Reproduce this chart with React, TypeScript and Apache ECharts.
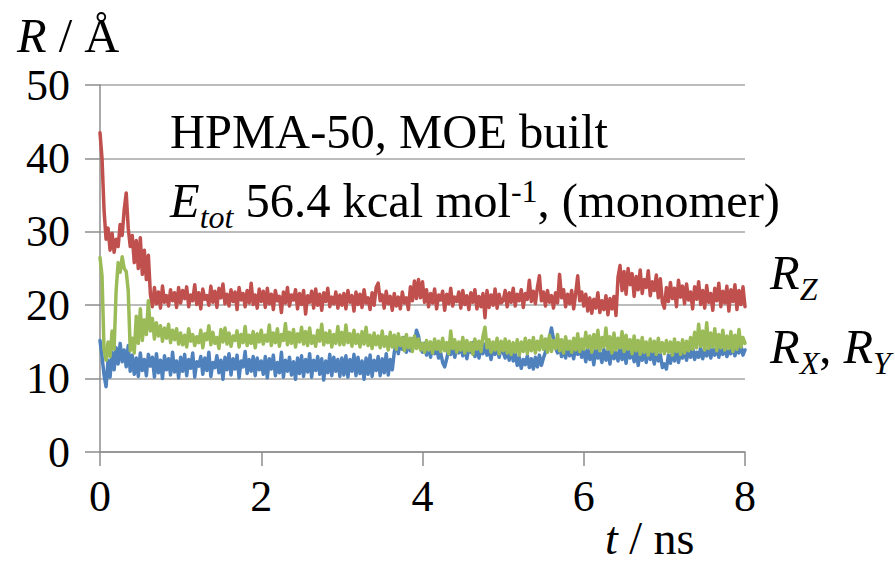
import React, { useEffect, useRef } from "react";
import * as echarts from "echarts";

const FONT = "Liberation Serif";

// sampling step in ns (x positions of the samples)
const STEP_NS = 0.025;
const xTicks = [0, 2, 4, 6, 8];
const yTicks = [0, 10, 20, 30, 40, 50];

// R_Z (red), one row per ns
const rz = [
  43.5, 40, 33, 29, 30.5, 27.5, 29.8, 27.2, 29, 28, 31, 29.5, 33, 35.3, 30.5, 28, 29.5, 25.8, 28.8, 25, 29.2, 24.2, 27.5, 23.5, 26.8, 21.5, 19.8, 22.4, 20.2, 21.8, 19.6, 22.6, 20.4, 21.3, 19.9, 22.1, 20.6, 21.7, 19.7, 22.4,
  20.3, 22.0, 20.9, 22.5, 19.8, 21.4, 20.6, 22.8, 20.1, 21.7, 19.5, 22.2, 20.8, 21.3, 20.0, 22.6, 20.4, 21.9, 19.7, 22.3, 21.0, 22.9, 20.2, 21.5, 19.9, 22.1, 20.5, 21.8, 19.4, 22.4, 20.7, 21.6, 19.8, 22.0, 20.3, 23.0, 20.1, 21.4, 19.6, 22.2,
  20.5, 21.9, 19.7, 22.3, 20.2, 21.5, 19.4, 22.0, 20.6, 21.2, 19.0, 21.8, 20.3, 22.4, 19.9, 21.4, 20.7, 22.1, 19.5, 21.6, 20.1, 22.0, 18.8, 21.3, 20.4, 21.9, 19.6, 22.2, 20.0, 21.5, 19.3, 21.7, 20.5, 22.3, 19.8, 21.1, 20.2, 21.8, 19.6, 21.4,
  20.0, 21.6, 19.5, 22.0, 20.4, 21.3, 19.2, 21.8, 20.1, 21.5, 19.7, 22.1, 20.3, 21.0, 19.4, 21.7, 20.0, 22.4, 23.0, 20.6, 21.4, 19.6, 21.9, 20.2, 21.2, 19.3, 21.6, 19.9, 21.1, 19.5, 21.8, 20.3, 21.0, 19.4, 22.5, 20.6, 23.3, 20.9, 23.5, 21.0,
  23.2, 20.4, 22.1, 19.8, 21.6, 20.3, 22.2, 19.5, 21.4, 20.7, 21.9, 19.3, 21.5, 20.2, 22.3, 19.9, 21.1, 20.5, 21.8, 19.6, 22.0, 20.1, 21.3, 19.4, 21.7, 20.4, 22.1, 19.5, 21.2, 19.8, 21.6, 18.3, 22.0, 19.7, 21.4, 20.0, 22.2, 19.6, 21.5, 20.3,
  20.6, 22.0, 19.8, 21.7, 20.4, 22.3, 19.9, 21.5, 20.6, 22.1, 19.7, 21.6, 20.8, 23.4, 20.5, 21.9, 20.2, 22.4, 24.0, 20.6, 21.8, 19.9, 22.0, 20.4, 21.3, 19.6, 21.7, 20.3, 24.2, 21.0, 22.1, 19.8, 21.5, 20.2, 22.0, 19.5, 21.6, 24.0, 20.6, 21.8,
  19.9, 21.5, 19.2, 21.0, 18.9, 20.8, 19.6, 21.7, 19.0, 20.6, 19.4, 21.3, 18.7, 20.9, 19.5, 21.2, 18.6, 23.8, 25.4, 22.0, 24.6, 21.5, 25.0, 22.8, 24.3, 21.2, 23.9, 22.1, 24.8, 21.6, 23.5, 22.4, 24.7, 21.3, 23.2, 22.0, 24.1, 21.0, 23.6, 20.4,
  19.6, 22.4, 20.5, 23.1, 20.9, 22.3, 19.8, 23.4, 21.1, 22.6, 20.2, 22.9, 20.7, 21.8, 19.5, 22.5, 20.8, 23.2, 20.1, 22.0, 19.6, 22.7, 20.4, 21.6, 19.3, 22.3, 20.6, 23.0, 19.8, 21.9, 20.3, 22.6, 19.2, 22.1, 20.5, 22.8, 19.4, 22.0, 20.1, 22.5,
  19.8,
];

// R_Y (green)
const ry = [
  26.5, 24, 14, 12.5, 15, 13, 16.5, 14, 22, 25.8, 24.5, 26.6, 25, 24.6, 22, 13.8, 15.5, 13.5, 18.5, 14.8, 19.5, 15.2, 18, 16, 20.6, 16.5, 18.2, 15.4, 17.6, 15.8, 17.2, 15.1, 16.9, 15.5, 17.4, 14.9, 16.6, 15.3, 16.8, 14.7,
  16.2, 14.6, 15.9, 14.3, 16.8, 15.1, 16.0, 14.5, 15.7, 14.9, 16.6, 14.2, 16.1, 15.3, 17.2, 14.6, 16.3, 14.8, 15.6, 14.1, 16.7, 15.0, 16.9, 14.7, 16.2, 14.4, 15.8, 15.2, 16.5, 14.3, 16.0, 14.9, 17.1, 14.5, 15.9, 14.8, 16.4, 14.2, 16.1, 15.0,
  16.6, 14.7, 15.9, 15.1, 17.3, 14.5, 16.2, 14.9, 16.8, 14.4, 16.0, 15.2, 17.5, 14.6, 16.3, 14.8, 16.7, 14.3, 16.1, 15.0, 17.0, 14.7, 16.4, 14.5, 16.9, 14.8, 15.8, 14.4, 16.6, 15.1, 17.4, 14.6, 16.2, 14.9, 16.5, 14.3, 16.0, 14.8, 17.1, 14.6,
  16.3, 14.6, 17.3, 14.9, 16.1, 14.4, 16.6, 14.8, 16.0, 14.3, 16.4, 14.7, 17.0, 14.5, 15.9, 14.1, 16.2, 14.6, 15.8, 14.2, 16.5, 14.4, 15.7, 13.9, 16.3, 14.3, 15.9, 14.0, 16.1, 14.5, 15.6, 13.8, 16.0, 14.2, 15.5, 13.7, 15.8, 14.1, 15.4, 13.9,
  14.8, 13.6, 15.2, 13.9, 15.0, 13.5, 15.4, 14.0, 15.1, 13.7, 15.5, 13.8, 14.9, 13.4, 16.5, 14.1, 15.3, 13.6, 15.0, 13.9, 15.6, 13.5, 15.2, 13.8, 14.9, 13.3, 15.4, 14.0, 15.1, 13.7, 15.8, 17.0, 14.2, 15.3, 13.6, 15.0, 13.9, 15.5, 13.4, 15.1,
  13.8, 15.4, 13.5, 15.1, 13.3, 14.9, 13.6, 15.3, 13.2, 15.0, 13.7, 15.5, 13.4, 15.2, 13.8, 15.6, 13.5, 15.1, 13.9, 15.8, 14.0, 15.4, 13.6, 15.9, 13.7, 15.2, 14.1, 16.0, 13.8, 15.3, 13.5, 15.7, 14.0, 15.1, 13.6, 15.5, 13.9, 16.1, 13.7, 15.4,
  14.0, 16.3, 14.2, 15.8, 13.6, 16.0, 14.1, 16.6, 13.8, 15.6, 14.3, 16.9, 14.0, 15.7, 13.5, 16.2, 13.9, 15.5, 14.2, 16.4, 13.7, 15.9, 14.0, 15.3, 13.4, 15.8, 13.8, 15.2, 13.3, 15.6, 13.6, 15.0, 13.2, 15.4, 13.7, 15.1, 13.3, 15.5, 13.6, 14.9,
  13.4, 15.2, 13.6, 15.0, 13.2, 15.4, 13.7, 14.9, 13.3, 15.3, 13.5, 15.1, 13.8, 15.6, 14.0, 16.3, 14.2, 17.4, 14.4, 16.5, 13.9, 17.6, 14.1, 16.2, 14.3, 16.8, 13.8, 16.0, 14.2, 16.6, 13.9, 15.8, 14.1, 16.4, 13.7, 15.9, 14.0, 16.7, 14.3, 15.6,
  14.8,
];

// R_X (blue)
const rx = [
  15.2, 13, 10.5, 8.9, 12.5, 10.2, 13.6, 11.2, 14.2, 12, 14.8, 12.3, 13.9, 11.6, 14.5, 11.0, 13.2, 10.6, 12.8, 10.3, 13.5, 11.1, 12.6, 10.4, 13.3, 11.7, 12.9, 10.2, 13.4, 10.8, 12.5, 10.0, 13.1, 11.2, 12.7, 10.5, 13.6, 10.9, 12.4, 10.1,
  12.9, 11.0, 13.3, 10.4, 12.6, 11.4, 13.5, 10.2, 12.3, 11.7, 13.0, 10.6, 12.8, 11.1, 13.6, 10.3, 12.2, 11.5, 13.1, 10.8, 12.5, 9.9, 12.9, 11.2, 13.4, 10.5, 12.7, 11.3, 13.2, 10.1, 12.4, 11.6, 13.7, 10.7, 12.6, 11.0, 13.0, 10.4, 12.8, 11.2,
  12.4, 10.6, 13.0, 10.1, 12.7, 11.3, 13.2, 10.4, 12.2, 10.8, 13.6, 10.2, 12.5, 11.0, 12.9, 10.5, 12.3, 9.9, 12.8, 10.7, 13.1, 10.3, 12.6, 10.9, 13.4, 10.2, 12.5, 11.1, 13.0, 10.6, 12.7, 9.8, 12.4, 10.8, 13.3, 10.4, 12.9, 11.0, 12.6, 10.3,
  12.8, 10.5, 13.1, 10.2, 12.6, 11.0, 13.3, 10.4, 12.9, 10.7, 12.4, 9.9, 12.8, 10.6, 13.2, 10.3, 12.5, 11.1, 13.0, 10.4, 12.7, 10.8, 13.4, 10.5, 12.6, 11.2, 13.6, 14.8, 13.4, 15.2, 14.0, 15.6, 13.6, 14.9, 13.8, 15.4, 14.6, 16.6, 15.8, 14.2,
  13.6, 14.8, 13.2, 14.5, 12.9, 14.7, 13.4, 14.1, 12.8, 13.5, 12.2, 11.6, 12.7, 14.0, 13.3, 14.6, 12.9, 14.3, 13.5, 14.8, 13.1, 14.4, 12.7, 14.2, 13.6, 14.9, 13.0, 14.5, 12.8, 14.1, 13.4, 14.7, 13.2, 14.0, 12.6, 14.3, 13.3, 14.6, 12.9, 14.2,
  13.6, 12.8, 14.2, 12.5, 13.9, 12.4, 13.5, 11.8, 12.9, 11.4, 12.6, 11.9, 13.1, 11.5, 12.7, 11.3, 12.9, 11.6, 13.2, 11.8, 12.8, 13.6, 14.8, 15.6, 16.9, 15.4, 14.2, 13.5, 14.6, 13.0, 14.3, 12.8, 14.5, 13.1, 14.0, 12.7, 14.4, 13.3, 14.1, 12.9,
  13.9, 12.3, 14.1, 12.6, 13.7, 11.9, 14.2, 12.8, 13.5, 12.2, 14.0, 12.5, 13.8, 12.0, 14.3, 12.7, 13.6, 12.4, 14.1, 12.6, 13.9, 12.1, 14.2, 12.8, 13.7, 12.3, 14.0, 11.8, 13.6, 12.5, 13.9, 12.2, 14.1, 12.6, 13.5, 12.0, 13.8, 12.4, 13.3, 11.5,
  12.0, 11.3, 13.2, 12.1, 13.7, 12.4, 13.9, 12.2, 13.5, 12.8, 14.1, 12.5, 13.8, 12.9, 14.3, 12.6, 13.6, 12.9, 14.2, 12.7, 13.9, 13.1, 14.4, 12.8, 14.0, 13.2, 14.5, 12.9, 14.1, 13.3, 14.4, 13.0, 13.8, 13.4, 14.6, 13.1, 14.2, 13.5, 14.5, 13.2,
  13.9,
];

const seriesNames = ["R_X", "R_Z", "R_Y"];
const seriesColors = ["#4F81BD", "#C0504D", "#9BBB59"];
const seriesValues = [rx, rz, ry];

const toPairs = (vals: number[]) =>
  vals.map((v, i) => [Number((i * STEP_NS).toFixed(3)), v]);

const MAIN = 48.5;
const SUB = 32;

const rich = {
  n: { fontFamily: FONT, fontSize: MAIN, verticalAlign: "middle" },
  i: { fontFamily: FONT, fontSize: MAIN, fontStyle: "italic", verticalAlign: "middle" },
  sub: { fontFamily: FONT, fontSize: SUB, fontStyle: "italic", verticalAlign: "middle", padding: [34, 0, 0, 0] },
  sup: { fontFamily: FONT, fontSize: SUB, verticalAlign: "middle", padding: [0, 0, 18, 0] },
  ns: { fontFamily: FONT, fontSize: 46, verticalAlign: "middle" },
  nsi: { fontFamily: FONT, fontSize: 46, fontStyle: "italic", verticalAlign: "middle" },
};

const label = (x: number, y: number, text: string) => ({
  type: "text",
  x,
  y,
  style: { text, rich, fontFamily: FONT, fontSize: MAIN, fill: "#000", verticalAlign: "middle" },
});

export default function App() {
  const ref = useRef<HTMLDivElement>(null);
  useEffect(() => {
    document.body.style.margin = "0";
    if (!ref.current) return;
    const chart = echarts.init(ref.current, null, { renderer: "svg" });
    chart.setOption({
      animation: false,
      backgroundColor: "#fff",
      grid: { left: 100, right: 150, top: 85, bottom: 111, containLabel: false },
      xAxis: {
        type: "value",
        min: xTicks[0],
        max: xTicks[xTicks.length - 1],
        interval: 2,
        axisLine: { show: true, lineStyle: { color: "#8C8C8C", width: 1.5 } },
        axisTick: { show: true, length: 14, lineStyle: { color: "#8C8C8C", width: 1.5 } },
        splitLine: { show: false },
        axisLabel: { fontFamily: FONT, fontSize: 44, color: "#000", margin: 22 },
      },
      yAxis: {
        type: "value",
        min: yTicks[0],
        max: yTicks[yTicks.length - 1],
        interval: 10,
        axisLine: { show: true, lineStyle: { color: "#8C8C8C", width: 1.5 } },
        axisTick: { show: true, length: 15, lineStyle: { color: "#8C8C8C", width: 1.5 } },
        splitLine: { show: true, lineStyle: { color: "#A6A6A6", width: 1.5 } },
        axisLabel: { fontFamily: FONT, fontSize: 44, color: "#000", margin: 30 },
      },
      series: seriesValues.map((vals, k) => ({
        name: seriesNames[k],
        type: "line",
        data: toPairs(vals),
        showSymbol: false,
        symbol: "none",
        lineStyle: { color: seriesColors[k], width: 3.5, join: "round", cap: "round" },
        itemStyle: { color: seriesColors[k] },
        z: 2 + k,
      })),
      graphic: [
        label(17, 35, "{i|R}{n| / Å}"),
        label(170, 131, "{n|HPMA-50, MOE built}"),
        label(170, 200, "{i|E}{sub|tot}{n| 56.4 kcal mol}{sup|-1}{n|, (monomer)}"),
        label(770, 272, "{i|R}{sub|Z}"),
        label(770, 346, "{i|R}{sub|X}{n|, }{i|R}{sub|Y}"),
        label(605, 538, "{nsi|t}{ns| / ns}"),
      ],
    });
    return () => chart.dispose();
  }, []);
  return <div ref={ref} style={{ width: 895, height: 563 }} />;
}
